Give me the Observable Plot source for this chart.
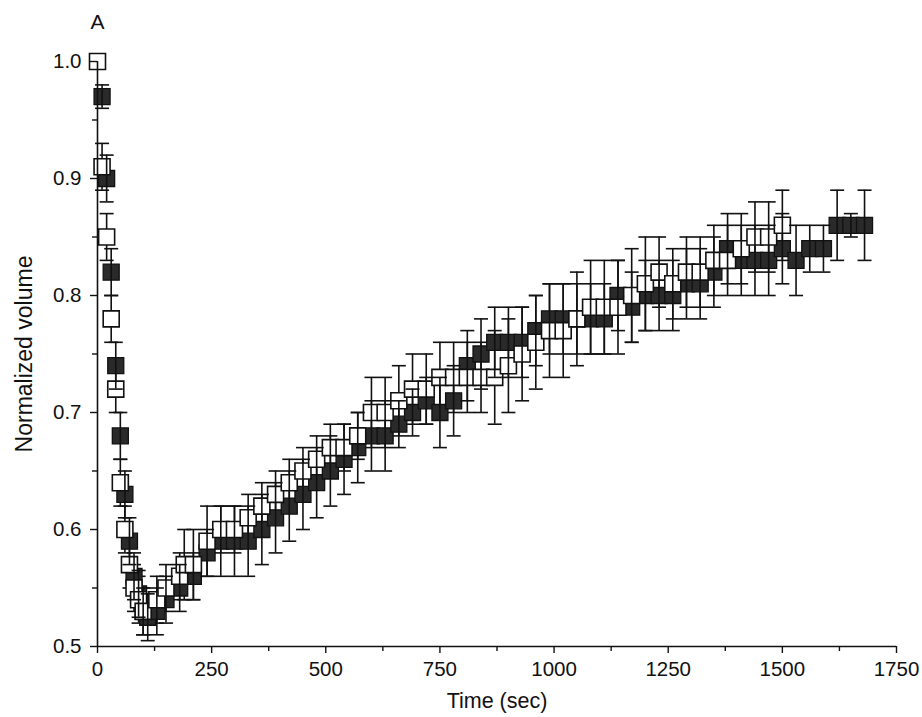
<!DOCTYPE html>
<html>
<head>
<meta charset="utf-8">
<script src="https://cdn.jsdelivr.net/npm/d3@7"></script>
<script src="https://cdn.jsdelivr.net/npm/@observablehq/plot@0.6"></script>
<style>
  html, body { margin: 0; padding: 0; background: #fff; }
  svg { display: block; }
</style>
</head>
<body>
<div id="chart"></div>
<script>
// ---- data ----
const openTime = [0,10,20,30,40,50,60,70,80,90,100,130,150,180,190,210,240,270,300,330,360,390,420,450,480,510,540,570,600,630,660,690,720,750,780,810,840,870,900,930,960,990,1020,1050,1080,1110,1140,1170,1200,1230,1260,1290,1320,1350,1380,1410,1440,1470,1500];
const openValue = [1.00,0.91,0.85,0.78,0.72,0.64,0.60,0.57,0.55,0.54,0.53,0.54,0.55,0.56,0.57,0.57,0.59,0.60,0.60,0.61,0.62,0.63,0.64,0.65,0.66,0.67,0.67,0.68,0.70,0.70,0.71,0.72,0.72,0.73,0.73,0.73,0.73,0.73,0.74,0.75,0.76,0.77,0.77,0.78,0.79,0.79,0.79,0.80,0.81,0.82,0.81,0.82,0.82,0.83,0.83,0.84,0.85,0.85,0.86];
const openError = [0,0.02,0.02,0.02,0.02,0.02,0.02,0.02,0.02,0.02,0.02,0.02,0.02,0.02,0.03,0.03,0.03,0.02,0.02,0.02,0.02,0.02,0.02,0.02,0.02,0.02,0.02,0.02,0.03,0.03,0.03,0.03,0.03,0.03,0.03,0.03,0.03,0.04,0.04,0.04,0.04,0.04,0.04,0.04,0.04,0.04,0.04,0.04,0.04,0.03,0.03,0.03,0.03,0.03,0.03,0.03,0.03,0.03,0.03];

const filledTime = [10,20,30,40,50,60,70,80,90,100,110,130,150,180,210,240,270,300,330,360,390,420,450,480,510,540,570,600,630,660,690,720,750,780,810,840,870,900,930,960,990,1020,1050,1080,1110,1140,1170,1200,1230,1260,1290,1320,1350,1380,1410,1440,1470,1500,1530,1560,1590,1620,1650,1680];
const filledValue = [0.97,0.90,0.82,0.74,0.68,0.63,0.59,0.56,0.545,0.53,0.525,0.53,0.54,0.55,0.56,0.58,0.59,0.59,0.59,0.60,0.61,0.62,0.63,0.64,0.65,0.66,0.67,0.68,0.68,0.69,0.70,0.71,0.70,0.71,0.74,0.75,0.76,0.76,0.76,0.77,0.78,0.78,0.78,0.78,0.78,0.80,0.79,0.80,0.80,0.80,0.81,0.81,0.82,0.84,0.83,0.83,0.83,0.84,0.83,0.84,0.84,0.86,0.86,0.86];
const filledError = [0.01,0.02,0.02,0.02,0.02,0.02,0.02,0.02,0.02,0.02,0.02,0.02,0.02,0.02,0.02,0.02,0.03,0.03,0.03,0.03,0.03,0.03,0.03,0.03,0.03,0.03,0.03,0.03,0.03,0.02,0.02,0.02,0.03,0.03,0.03,0.03,0.03,0.03,0.03,0.03,0.03,0.03,0.03,0.03,0.03,0.03,0.03,0.03,0.03,0.03,0.03,0.03,0.03,0.03,0.03,0.03,0.03,0.03,0.03,0.02,0.02,0.03,0.01,0.03];

const xTicks = [0,250,500,750,1000,1250,1500,1750];
const xMinorTicks = [125,375,625,875,1125,1375,1625];
const yTicks = [0.5,0.6,0.7,0.8,0.9,1.0];
const yMinorTicks = [0.55,0.65,0.75,0.85,0.95];
const xLabel = "Time (sec)";
const yLabel = "Normalized volume";
const panelLabel = "A";

// ---- build tables ----
const openData = openTime.map((t, i) => ({t, v: openValue[i], e: openError[i]}));
const filledData = filledTime.map((t, i) => ({t, v: filledValue[i], e: filledError[i]}));

const squareSymbol = {draw(ctx) { ctx.rect(-8, -8, 16, 16); }};
const capSymbol = {draw(ctx) { ctx.moveTo(-7, 0); ctx.lineTo(7, 0); }};

function errorMarks(data) {
  const withErr = data.filter(d => d.e > 0);
  return [
    Plot.ruleX(withErr, {x: "t", y1: d => d.v - d.e, y2: d => d.v + d.e, stroke: "#111", strokeWidth: 1.6}),
    Plot.dot(withErr, {x: "t", y: d => d.v + d.e, symbol: capSymbol, stroke: "#111", strokeWidth: 1.6, fill: "none"}),
    Plot.dot(withErr, {x: "t", y: d => d.v - d.e, symbol: capSymbol, stroke: "#111", strokeWidth: 1.6, fill: "none"})
  ];
}

const font = "'Liberation Sans', Arial, Helvetica, sans-serif";

const chart = Plot.plot({
  width: 922,
  height: 717,
  marginLeft: 97,
  marginRight: 26,
  marginTop: 61,
  marginBottom: 71,
  style: {fontFamily: font, background: "white", color: "#111"},
  x: {domain: [0, 1750]},
  y: {domain: [0.5, 1.0]},
  marks: [
    ...errorMarks(openData),
    Plot.dot(filledData, {x: "t", y: "v", symbol: squareSymbol, fill: "#2a2a2a", stroke: "#111", strokeWidth: 1.3}),
    Plot.dot(openData, {x: "t", y: "v", symbol: squareSymbol, fill: "white", stroke: "#111", strokeWidth: 1.6}),
    ...errorMarks(filledData),
    Plot.ruleX([0], {y1: 0.5, y2: 1.0, stroke: "#111", strokeWidth: 1.6}),
    Plot.ruleY([0.5], {x1: 0, x2: 1750, stroke: "#111", strokeWidth: 1.6}),
    Plot.axisX(xTicks, {tickSize: 7, tickPadding: 8, fontSize: 20.5, label: null, strokeWidth: 1.4, tickFormat: d => String(d)}),
    Plot.axisX(xMinorTicks, {tickSize: 5, tickFormat: () => "", label: null, strokeWidth: 1.4}),
    Plot.axisY(yTicks, {tickSize: 7, tickPadding: 9, fontSize: 20.5, label: null, tickFormat: d => d.toFixed(1), strokeWidth: 1.4}),
    Plot.axisY(yMinorTicks, {tickSize: 5, tickFormat: () => "", label: null, strokeWidth: 1.4}),
    Plot.text([yLabel], {frameAnchor: "left", dx: -73, rotate: -90, textAnchor: "middle", lineAnchor: "middle", fontSize: 23, fill: "#111"}),
    Plot.text([xLabel], {frameAnchor: "bottom", dy: 55, textAnchor: "middle", lineAnchor: "middle", fontSize: 21.5, fill: "#111"}),
    Plot.text([panelLabel], {frameAnchor: "top-left", dy: -39, textAnchor: "middle", lineAnchor: "middle", fontSize: 21, fill: "#111"})
  ]
});
document.getElementById("chart").append(chart);
</script>
</body>
</html>
